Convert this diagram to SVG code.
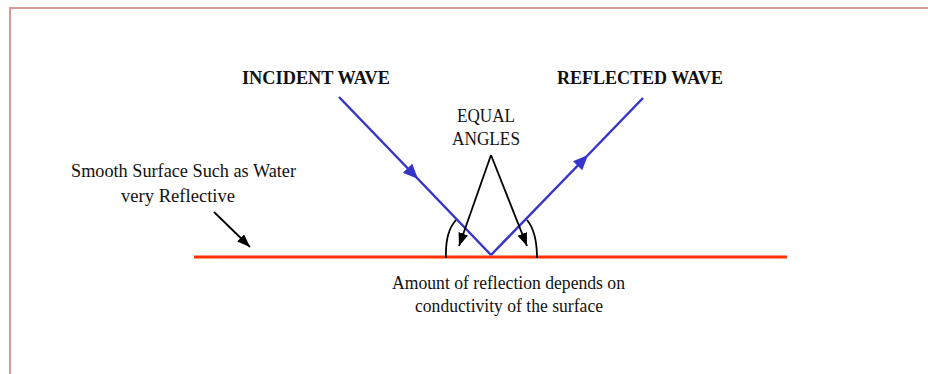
<svg xmlns="http://www.w3.org/2000/svg" width="928" height="374" viewBox="0 0 928 374">
<style>
.t{font-family:"Liberation Serif","Times New Roman",serif;font-size:19px;fill:#111}
.b{font-weight:bold}
.wave{stroke:#3535cc;stroke-width:2.5;fill:none}
.blk{stroke:#000;stroke-width:1.8;fill:none}
</style>
<defs>
<marker id="ab" markerUnits="userSpaceOnUse" markerWidth="16" markerHeight="14" refX="15" refY="6.5" orient="auto">
<path d="M0,0 L15,6.5 L0,13 Z" fill="#3535cc"/>
</marker>
<marker id="ak" markerUnits="userSpaceOnUse" markerWidth="14" markerHeight="12" refX="13" refY="5" orient="auto">
<path d="M0,0 L13,5 L0,10 Z" fill="#000"/>
</marker>
</defs>
<rect width="928" height="374" fill="#fff"/>
<path d="M10,374 L10,8 L928,8" fill="none" stroke="#d99a9a" stroke-width="2"/>
<g id="surface">
<line x1="194" y1="257" x2="787" y2="257" stroke="#ff3300" stroke-width="3"/>
</g>
<g id="connectors">
<path class="wave" d="M339,97 L418,179 L491,255" marker-mid="url(#ab)"/>
<path class="wave" d="M491,255 L588,155 L643,98" marker-mid="url(#ab)"/>
<path class="blk" d="M491,155 L459,246" marker-end="url(#ak)"/>
<path class="blk" d="M491,155 L527,246" marker-end="url(#ak)"/>
<path class="blk" d="M456,220 Q445,232 446,258" stroke-width="2"/>
<path class="blk" d="M527,220 Q537,232 537,258" stroke-width="2"/>
<path class="blk" d="M214,212 L250,247" marker-end="url(#ak)"/>
</g>
<g id="incident">
<text class="t b" x="242" y="84" textLength="148" lengthAdjust="spacingAndGlyphs">INCIDENT WAVE</text>
</g>
<g id="reflected">
<text class="t b" x="557" y="84" textLength="166" lengthAdjust="spacingAndGlyphs">REFLECTED WAVE</text>
</g>
<g id="equal-angles">
<text class="t" x="457" y="122" textLength="58" lengthAdjust="spacingAndGlyphs">EQUAL</text>
<text class="t" x="452" y="145" textLength="68" lengthAdjust="spacingAndGlyphs">ANGLES</text>
</g>
<g id="smooth-surface">
<text class="t" x="71" y="177" textLength="225" lengthAdjust="spacingAndGlyphs">Smooth Surface Such as Water</text>
<text class="t" x="121" y="202" textLength="114" lengthAdjust="spacingAndGlyphs">very Reflective</text>
</g>
<g id="amount">
<text class="t" x="392" y="289" textLength="233" lengthAdjust="spacingAndGlyphs">Amount of reflection depends on</text>
<text class="t" x="415" y="312" textLength="188" lengthAdjust="spacingAndGlyphs">conductivity of the surface</text>
</g>
</svg>
